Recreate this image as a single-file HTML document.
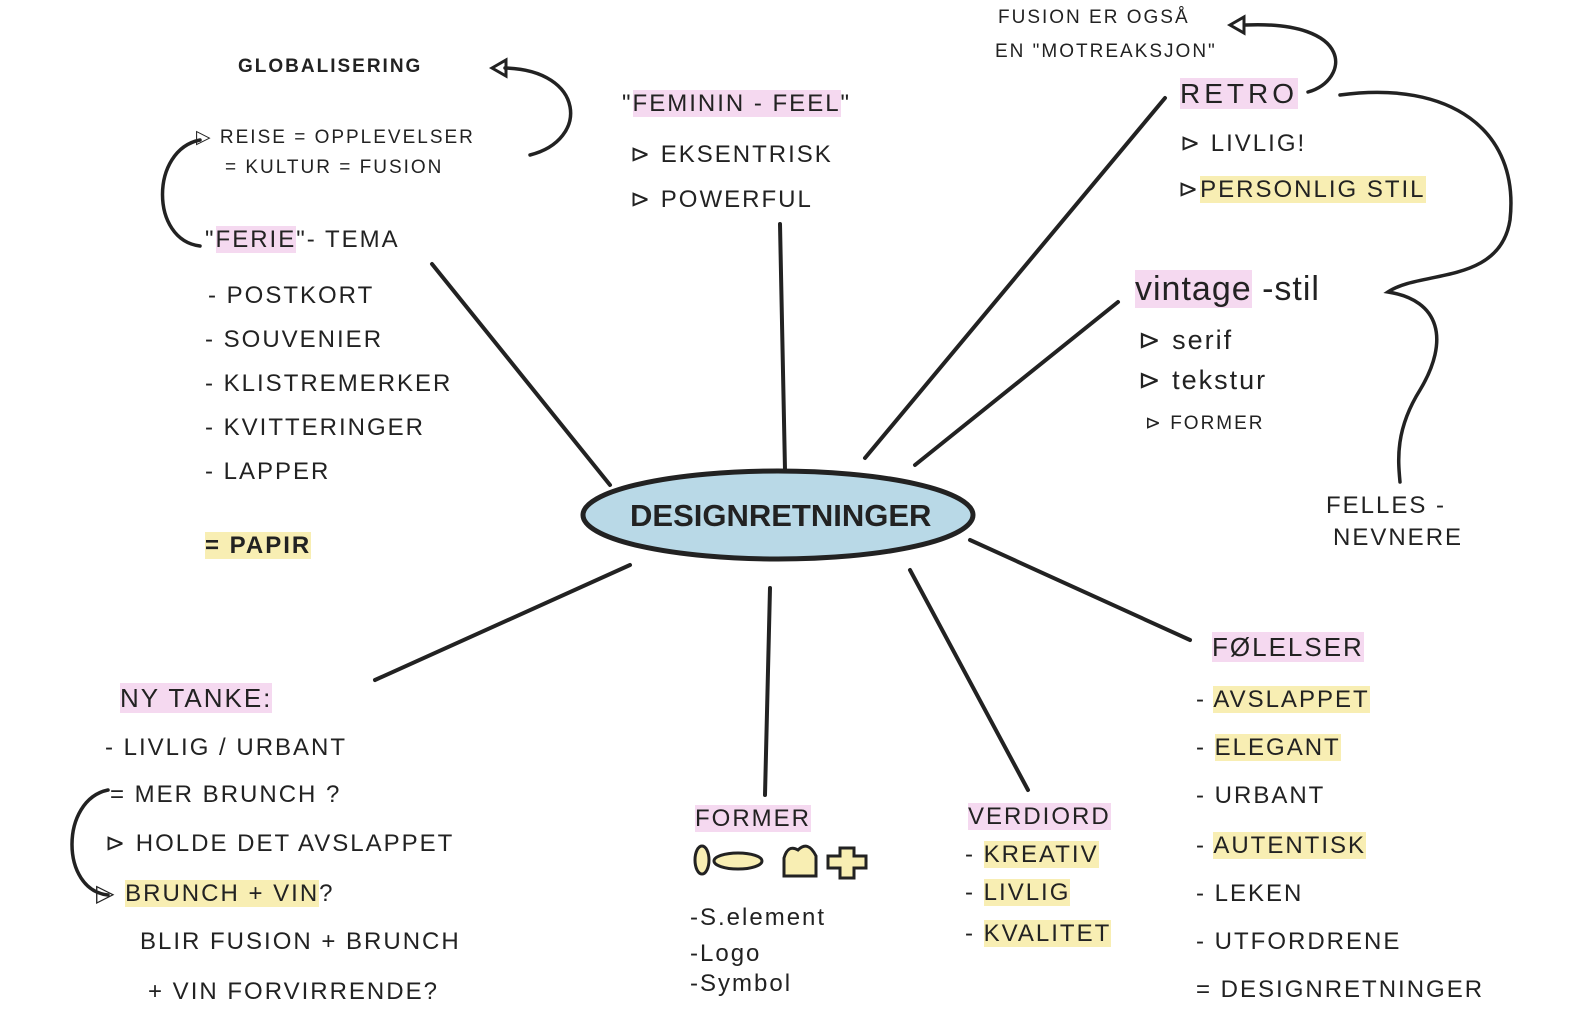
<!DOCTYPE html>
<html><head><meta charset="utf-8"><style>
body{margin:0;width:1580px;height:1034px;background:#fff;position:relative;overflow:hidden;font-family:"Liberation Sans",sans-serif;color:#222}
.t{position:absolute;white-space:nowrap;font-size:24px;letter-spacing:2px;line-height:1}
.s{font-size:19px}
.pk{background:#f5d9f0}
.yl{background:#f8eeb3}
svg{position:absolute;left:0;top:0}
</style></head><body>
<svg width="1580" height="1034" fill="none" stroke="#222" stroke-width="4" stroke-linecap="round">
<line x1="610" y1="485" x2="432" y2="264"/>
<line x1="785" y1="470" x2="780" y2="224"/>
<line x1="865" y1="458" x2="1165" y2="98"/>
<line x1="915" y1="465" x2="1118" y2="302"/>
<line x1="970" y1="540" x2="1190" y2="640"/>
<line x1="910" y1="570" x2="1028" y2="790"/>
<line x1="770" y1="588" x2="765" y2="795"/>
<line x1="630" y1="565" x2="375" y2="680"/>
<ellipse cx="778" cy="515" rx="195" ry="44" fill="#b9d9e7" stroke-width="5"/>
<path d="M530 155 C590 140 585 70 505 68" stroke-width="3.5"/>
<path d="M492 68 L506 60 L506 76 Z" stroke-width="3"/>
<path d="M200 140 C150 150 150 240 200 246" stroke-width="3.5"/>
<path d="M1308 92 C1350 80 1355 20 1245 25" stroke-width="3.5"/>
<path d="M1230 25 L1244 17 L1244 33 Z" stroke-width="3"/>
<path d="M1340 95 C1450 80 1520 130 1510 220 C1500 285 1420 270 1388 292 C1440 300 1450 340 1420 390 C1395 430 1398 460 1400 482" stroke-width="3.5"/>
<path d="M108 790 C60 800 60 890 108 895" stroke-width="3.5"/>
</svg>
<div class="t" style="left:630px;top:500px;font-size:31px;font-weight:bold;letter-spacing:0px">DESIGNRETNINGER</div>

<div class="t s" style="left:238px;top:57px;font-weight:bold">GLOBALISERING</div>
<div class="t s" style="left:196px;top:128px">▷ REISE = OPPLEVELSER</div>
<div class="t s" style="left:225px;top:158px">= KULTUR = FUSION</div>
<div class="t" style="left:205px;top:228px">"<span class="pk">FERIE</span>"- TEMA</div>
<div class="t" style="left:208px;top:284px">- POSTKORT</div>
<div class="t" style="left:205px;top:328px">- SOUVENIER</div>
<div class="t" style="left:205px;top:372px">- KLISTREMERKER</div>
<div class="t" style="left:205px;top:416px">- KVITTERINGER</div>
<div class="t" style="left:205px;top:460px">- LAPPER</div>
<div class="t" style="left:205px;top:534px;font-weight:bold"><span class="yl">= PAPIR</span></div>

<div class="t" style="left:622px;top:92px">"<span class="pk">FEMININ - FEEL</span>"</div>
<div class="t" style="left:630px;top:143px">⊳ EKSENTRISK</div>
<div class="t" style="left:630px;top:188px">⊳ POWERFUL</div>

<div class="t s" style="left:998px;top:8px">FUSION ER OGSÅ</div>
<div class="t s" style="left:995px;top:42px">EN "MOTREAKSJON"</div>
<div class="t" style="left:1180px;top:80px;font-size:28px;letter-spacing:4px"><span class="pk">RETRO</span></div>
<div class="t" style="left:1180px;top:132px">⊳ LIVLIG!</div>
<div class="t" style="left:1178px;top:178px">⊳<span class="yl">PERSONLIG STIL</span></div>
<div class="t" style="left:1135px;top:272px;font-size:34px;letter-spacing:1px"><span class="pk">vintage</span> -stil</div>
<div class="t" style="left:1138px;top:327px;font-size:27px">⊳ serif</div>
<div class="t" style="left:1138px;top:367px;font-size:27px">⊳ tekstur</div>
<div class="t s" style="left:1145px;top:414px">⊳ FORMER</div>
<div class="t" style="left:1326px;top:494px">FELLES -</div>
<div class="t" style="left:1333px;top:526px">NEVNERE</div>

<div class="t" style="left:1212px;top:634px;font-size:26px"><span class="pk">FØLELSER</span></div>
<div class="t" style="left:1196px;top:688px">- <span class="yl">AVSLAPPET</span></div>
<div class="t" style="left:1196px;top:736px">- <span class="yl">ELEGANT</span></div>
<div class="t" style="left:1196px;top:784px">- URBANT</div>
<div class="t" style="left:1196px;top:834px">- <span class="yl">AUTENTISK</span></div>
<div class="t" style="left:1196px;top:882px">- LEKEN</div>
<div class="t" style="left:1196px;top:930px">- UTFORDRENE</div>
<div class="t" style="left:1196px;top:978px">= DESIGNRETNINGER</div>

<div class="t" style="left:968px;top:805px"><span class="pk">VERDIORD</span></div>
<div class="t" style="left:965px;top:843px">- <span class="yl">KREATIV</span></div>
<div class="t" style="left:965px;top:881px">- <span class="yl">LIVLIG</span></div>
<div class="t" style="left:965px;top:922px">- <span class="yl">KVALITET</span></div>

<div class="t" style="left:695px;top:807px"><span class="pk">FORMER</span></div>
<svg width="1580" height="1034" stroke="#222" stroke-width="3" fill="#f8eeb3">
<ellipse cx="702" cy="860" rx="7" ry="14"/>
<ellipse cx="738" cy="861" rx="24" ry="8"/>
<path d="M784 876 L784 858 Q788 844 798 850 Q808 840 816 856 L816 876 Z"/>
<path d="M840 848 h14 v8 h12 v12 h-12 v10 h-14 v-10 h-12 v-12 h12 Z"/>
</svg>
<div class="t" style="left:690px;top:906px">-S.element</div>
<div class="t" style="left:690px;top:942px">-Logo</div>
<div class="t" style="left:690px;top:972px">-Symbol</div>

<div class="t" style="left:120px;top:685px;font-size:26px"><span class="pk">NY TANKE:</span></div>
<div class="t" style="left:105px;top:736px">- LIVLIG / URBANT</div>
<div class="t" style="left:110px;top:783px">= MER BRUNCH ?</div>
<div class="t" style="left:105px;top:832px">⊳ HOLDE DET AVSLAPPET</div>
<div class="t" style="left:96px;top:882px">▷ <span class="yl">BRUNCH + VIN</span>?</div>
<div class="t" style="left:140px;top:930px">BLIR FUSION + BRUNCH</div>
<div class="t" style="left:148px;top:980px">+ VIN FORVIRRENDE?</div>
</body></html>
